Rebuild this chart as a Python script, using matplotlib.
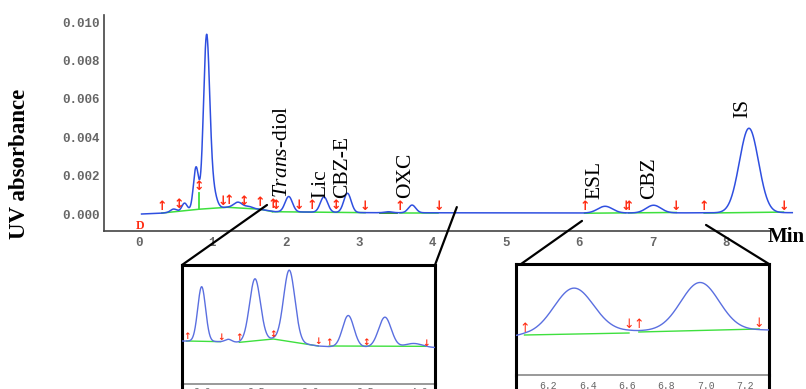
import numpy as np
import matplotlib
matplotlib.use('Agg')
import matplotlib.pyplot as plt
from matplotlib.lines import Line2D
from matplotlib.patches import ConnectionPatch

plt.rcParams['mathtext.fontset'] = 'custom'
plt.rcParams['mathtext.it'] = 'Liberation Serif:italic'
plt.rcParams['mathtext.rm'] = 'Liberation Serif'

W, H = 806, 389

# ---------------- main chromatogram data ----------------
peak_time   = [0.47, 0.62, 0.777, 0.92, 1.00, 1.35, 1.50, 2.04, 2.52, 2.84, 3.40, 3.72, 6.35, 7.01, 8.31]
peak_height = [0.00015, 0.0004, 0.0022, 0.0088, 0.0010, 0.0003, 0.0001, 0.0008, 0.0008, 0.0010,
               0.00005, 0.0004, 0.00035, 0.0004, 0.0044]
peak_sigma  = [0.04, 0.035, 0.035, 0.042, 0.05, 0.06, 0.05, 0.05, 0.05, 0.05, 0.05, 0.05, 0.10, 0.10, 0.13]

base_time  = [0.035, 0.30, 0.82, 1.20, 1.65, 1.85, 3.10, 6.00, 8.90]
base_value = [0.0, 0.00004, 0.00025, 0.00035, 0.00025, 0.00012, 0.00007, 0.00005, 0.00007]

green_t = [[0.31, 0.82, 1.20, 1.65, 1.82], [1.82, 3.08], [3.56, 4.08], [6.07, 6.63], [6.67, 7.32], [7.70, 8.78]]
green_v = [[0.00005, 0.00025, 0.00035, 0.00025, 0.00012], [0.00012, 0.00007], [0.00007, 0.00007],
           [0.00004, 0.00006], [0.00006, 0.00008], [0.00005, 0.0001]]
darkgreen_t = [3.29, 3.52]
darkgreen_v = [0.00007, 0.00007]
drop_t = 0.82
drop_v = [0.00025, 0.0011]

arrow_t = [0.31, 0.545, 0.82, 1.14, 1.23, 1.43, 1.65, 1.82, 1.87, 2.18, 2.35, 2.68, 3.08, 3.56, 4.08,
           6.07, 6.63, 6.67, 7.32, 7.70, 8.78]
arrow_kind = ['u', 'b', 'b', 'd', 'u', 'b', 'u', 'u', 'b', 'd', 'u', 'b', 'd', 'u', 'd',
              'u', 'd', 'u', 'd', 'u', 'd']

label_text = [r'$\mathit{Trans}$-diol', 'Lic', 'CBZ-E', 'OXC', 'ESL', 'CBZ', 'IS']
label_t = [1.95, 2.48, 2.77, 3.63, 6.21, 6.95, 8.22]
label_v = [0.00083, 0.00083, 0.00083, 0.00083, 0.00078, 0.00078, 0.0050]

x_ticks = [0, 1, 2, 3, 4, 5, 6, 7, 8]
y_ticks = [0.000, 0.002, 0.004, 0.006, 0.008, 0.010]
y_tick_labels = ['0.000', '0.002', '0.004', '0.006', '0.008', '0.010']

# ---------------- left inset data ----------------
L_peak_t = [1.997, 2.243, 2.488, 2.804, 3.347, 3.685, 3.95]
L_peak_h = [0.00082, 0.00004, 0.00093, 0.00107, 0.00047, 0.00045, 0.00006]
L_peak_s = [0.036, 0.03, 0.05, 0.052, 0.052, 0.058, 0.08]
L_base_t = [1.816, 2.17, 2.34, 2.66, 3.07, 3.17, 4.146]
L_base_v = [0.0, -0.00001, -0.00002, 0.00003, -0.000075, -0.000085, -0.0001]
L_green_t = [[1.859, 2.172], [2.344, 2.657, 3.071], [3.172, 4.063]]
L_green_v = [[0.0, -0.00001], [-0.00002, 0.00003, -0.000075], [-0.000075, -0.00008]]
L_arrow_t = [1.859, 2.172, 2.344, 2.657, 3.071, 3.172, 3.51, 4.063]
L_arrow_kind = ['u', 'd', 'u', 'b', 'd', 'u', 'b', 'd']
L_ticks = [2.0, 2.5, 3.0, 3.5, 4.0]

# ---------------- right inset data ----------------
R_peak_t = [6.33, 6.97]
R_peak_h = [0.00045, 0.00048]
R_peak_s = [0.10, 0.097]
R_base_t = [6.037, 6.08, 6.61, 6.66, 7.27, 7.32]
R_base_v = [-0.00001, 0.0, 0.00004, 0.00004, 0.00005, 0.00005]
R_green_t = [[6.08, 6.61], [6.66, 7.27]]
R_green_v = [[0.0, 0.00002], [0.00003, 0.00006]]
R_arrow_t = [6.08, 6.61, 6.66, 7.27]
R_arrow_kind = ['u', 'd', 'u', 'd']
R_ticks = [6.2, 6.4, 6.6, 6.8, 7.0, 7.2]

BLUE = '#2f4fe0'
LBLUE = '#5a6fe0'
GREEN = '#3ee03e'
RED = '#ff2a10'
GRAY = '#666666'
ARROWS = {'u': '\u2191', 'd': '\u2193', 'b': '\u2195'}


def trace(t, bt, bv, pt, ph, ps):
    y = np.interp(t, bt, bv)
    for c, h, s in zip(pt, ph, ps):
        y = y + h * np.exp(-0.5 * ((t - c) / s) ** 2)
    return y


fig = plt.figure(figsize=(W / 100, H / 100), dpi=100)
fig.patch.set_facecolor('white')

# ---------------- main axes ----------------
ax = fig.add_axes([104 / W, (H - 231) / H, (W - 104) / W, (231 - 15) / H])
ax.set_xlim(-0.4768, 9.087)
ax.set_ylim(-0.000885, 0.010365)
t = np.linspace(base_time[0], base_time[-1], 4000)
ax.plot(t, trace(t, base_time, base_value, peak_time, peak_height, peak_sigma), color=BLUE, lw=1.1, zorder=3)
for gt, gv in zip(green_t, green_v):
    ax.plot(gt, gv, color=GREEN, lw=1.1, zorder=2)
ax.plot(darkgreen_t, darkgreen_v, color='#2a8a2a', lw=1.3, zorder=2)
ax.plot([drop_t, drop_t], drop_v, color=GREEN, lw=1.3, zorder=2)
for at, k in zip(arrow_t, arrow_kind):
    yb = np.interp(at, base_time, base_value)
    if at == drop_t:
        yb = drop_v[1]
    ax.text(at, yb, ARROWS[k], color=RED, fontsize=9, fontweight='bold', ha='center', va='bottom',
            family='DejaVu Sans', zorder=4)
for txt, lt, lv in zip(label_text, label_t, label_v):
    ax.text(lt, lv, txt, rotation=90, ha='center', va='bottom', fontsize=15.5, family='Liberation Serif')

for s in ['top', 'right']:
    ax.spines[s].set_visible(False)
ax.spines['left'].set_color('#444444')
ax.spines['bottom'].set_color('#444444')
ax.spines['left'].set_linewidth(1.2)
ax.spines['bottom'].set_linewidth(1.2)
ax.spines['bottom'].set_bounds(-0.4768, 8.60)
ax.set_xticks(x_ticks)
ax.set_xticklabels([str(v) for v in x_ticks])
ax.set_yticks(y_ticks)
ax.set_yticklabels(y_tick_labels)
ax.tick_params(length=0, colors=GRAY)
ax.tick_params(axis='x', pad=4)
ax.tick_params(axis='y', pad=3)
for lab in ax.get_xticklabels() + ax.get_yticklabels():
    lab.set_family('Liberation Mono')
    lab.set_fontweight('bold')
    lab.set_fontsize(9)
ax.patch.set_alpha(0)

fig.text(20 / W, 1 - 164 / H, 'UV absorbance', rotation=90, ha='center', va='center',
         fontsize=16.5, fontweight='bold', family='Liberation Serif')
fig.text(768 / W, 1 - 237 / H, 'Min', ha='left', va='center', fontsize=15, fontweight='bold',
         family='Liberation Serif')
fig.text(140 / W, 1 - 226 / H, 'D', ha='center', va='center', fontsize=8.5, fontweight='bold',
         color=RED, family='Liberation Serif')


def inset(rect_px, xlim, ylim, bt, bv, pt, ph, ps, gts, gvs, ats, aks, ticks, pad, afs, aweight):
    x0, y0, x1, y1 = rect_px
    a = fig.add_axes([x0 / W, (H - y1) / H, (x1 - x0) / W, (y1 - y0) / H])
    a.set_xlim(*xlim)
    a.set_ylim(*ylim)
    tt = np.linspace(xlim[0], xlim[1], 1500)
    a.plot(tt, trace(tt, bt, bv, pt, ph, ps), color=LBLUE, lw=1.0, zorder=3)
    for gt, gv in zip(gts, gvs):
        a.plot(gt, gv, color=GREEN, lw=1.0, zorder=2)
    for at, k in zip(ats, aks):
        a.text(at, np.interp(at, bt, bv), ARROWS[k], color=RED, fontsize=afs, fontweight=aweight,
               ha='center', va='bottom', family='DejaVu Sans', zorder=4)
    for s in ['top', 'left', 'right']:
        a.spines[s].set_color('black')
        a.spines[s].set_linewidth(2.2)
    a.spines['bottom'].set_color('#888888')
    a.spines['bottom'].set_linewidth(1.2)
    a.set_yticks([])
    a.set_xticks(ticks)
    a.set_xticklabels(['%.1f' % v for v in ticks])
    a.tick_params(length=0, colors=GRAY, pad=pad)
    for lab in a.get_xticklabels():
        lab.set_family('Liberation Mono')
        lab.set_fontsize(7)
    for xe in (x0, x1):
        fig.add_artist(Line2D([xe / W, xe / W], [0, (H - y1) / H], transform=fig.transFigure,
                              color='black', lw=2.2))
    return a


axL = inset((182, 265, 435, 384), (1.816, 4.146), (-0.000645, 0.00114),
            L_base_t, L_base_v, L_peak_t, L_peak_h, L_peak_s, L_green_t, L_green_v,
            L_arrow_t, L_arrow_kind, L_ticks, 2.5, 6.5, 'bold')
axR = inset((516, 264, 769, 375), (6.037, 7.32), (-0.0004, 0.00071),
            R_base_t, R_base_v, R_peak_t, R_peak_h, R_peak_s, R_green_t, R_green_v,
            R_arrow_t, R_arrow_kind, R_ticks, 4.5, 9, 'normal')

# connectors from main trace to inset corners
conn_t = [1.744, 4.33, 6.035, 7.725]
conn_v = [0.00047, 0.00036, -0.00036, -0.00057]
conn_axes = [axL, axL, axR, axR]
conn_corner = [(0, 1), (1, 1), (0.02, 1), (1, 1)]
for ct, cv, ca, cc in zip(conn_t, conn_v, conn_axes, conn_corner):
    fig.add_artist(ConnectionPatch(xyA=(ct, cv), coordsA=ax.transData, xyB=cc, coordsB=ca.transAxes,
                                   color='black', lw=1.6))

fig.savefig('out.png', dpi=100, facecolor='white')
